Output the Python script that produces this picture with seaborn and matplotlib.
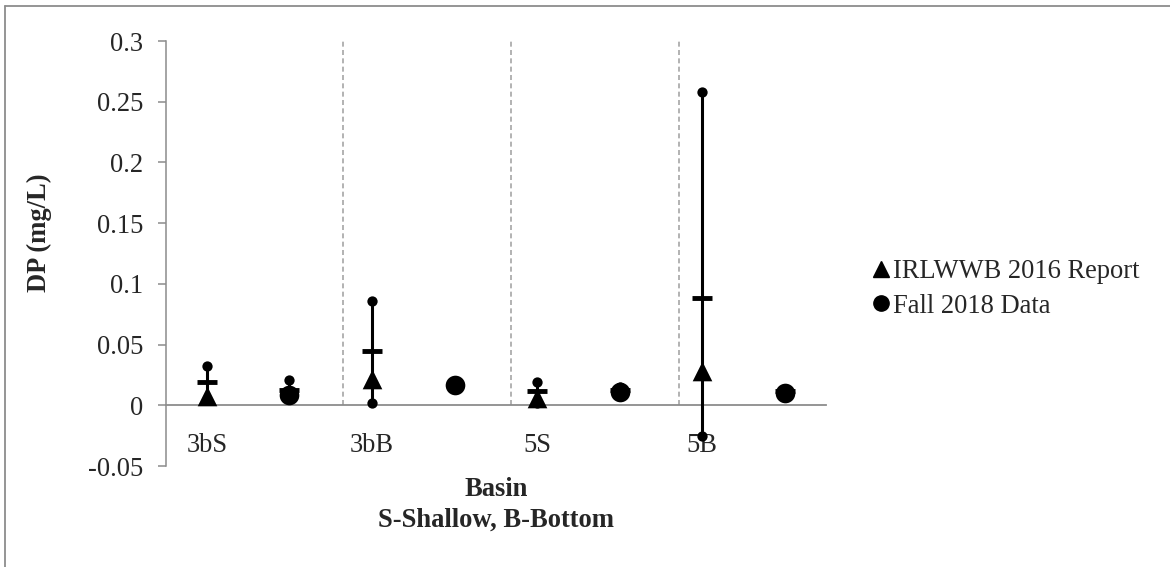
import numpy as np
import pandas as pd
import matplotlib
matplotlib.use("Agg")
import matplotlib.pyplot as plt
from matplotlib.lines import Line2D
import seaborn as sns

# ---- data ----
categories = ["3bS", "3bB", "5S", "5B"]
irl_value = [0.008, 0.022, 0.006, 0.028]      # triangles (IRLWWB 2016 Report)
irl_mean = [0.019, 0.045, 0.012, 0.088]       # dash markers
irl_min = [0.004, 0.002, 0.002, -0.025]
irl_max = [0.032, 0.086, 0.019, 0.258]
fall_value = [0.0085, 0.017, 0.011, 0.010]    # circles (Fall 2018 Data)
fall_mean = [0.0125, np.nan, 0.0125, 0.0115]
fall_min = [0.006, np.nan, 0.008, 0.008]
fall_max = [0.0205, np.nan, 0.015, 0.013]
separators = [1.65, 3.68, 5.72]
yticks = [-0.05, 0, 0.05, 0.1, 0.15, 0.2, 0.25, 0.3]
ytick_labels = ["-0.05", "0", "0.05", "0.1", "0.15", "0.2", "0.25", "0.3"]
legend_labels = ["IRLWWB 2016 Report", "Fall 2018 Data"]

sns.set_style("white")
plt.rcParams['font.family'] = ['Liberation Serif', 'DejaVu Serif']
FS = 19.1
GRAY = "#8c8c8c"

n = len(categories)
irl_x = [2 * i for i in range(n)]
fall_x = [2 * i + 1 for i in range(n)]

df_irl = pd.DataFrame({"x": irl_x, "value": irl_value, "mean": irl_mean,
                       "lo": irl_min, "hi": irl_max})
df_fall = pd.DataFrame({"x": fall_x, "value": fall_value, "mean": fall_mean,
                        "lo": fall_min, "hi": fall_max})

fig = plt.figure(figsize=(11.7, 5.67), dpi=100)
ax = fig.add_axes([0.1415, 0.178, 0.5645, 0.7496])

# separators
ax.vlines(separators, 0, 0.3, colors="#a6a6a6", linestyles=(0, (3, 2)), lw=1.2, zorder=1)

for df in (df_irl, df_fall):
    d = df.dropna(subset=["lo"])
    ax.vlines(d["x"], d["lo"], d["hi"], colors="black", lw=2.2, zorder=3)
    sns.scatterplot(data=pd.concat([d[["x", "lo"]].rename(columns={"lo": "y"}),
                                    d[["x", "hi"]].rename(columns={"hi": "y"})]),
                    x="x", y="y", marker="o", s=55, color="black", linewidth=0,
                    ax=ax, zorder=4, legend=False)
    ax.plot(d["x"], d["mean"], ls="none", marker="_", ms=14, mew=3.5,
            color="black", zorder=4)

sns.scatterplot(data=df_irl, x="x", y="value", marker="^", s=200, color="black",
                linewidth=0, ax=ax, zorder=5, legend=False)
sns.scatterplot(data=df_fall, x="x", y="value", marker="o", s=200, color="black",
                linewidth=0, ax=ax, zorder=5, legend=False)

ax.set_xlim(-0.5, 2 * n - 0.5)
ax.set_ylim(-0.05, 0.3)
ax.set_yticks(yticks, ytick_labels)
ax.set_xticks(irl_x, categories)
ax.set_xlabel("")
ax.set_ylabel("DP (mg/L)", fontsize=FS, fontweight="bold")
ax.yaxis.set_label_coords(-0.172, 0.55)

for s in ("top", "right"):
    ax.spines[s].set_visible(False)
ax.spines["left"].set_color(GRAY)
ax.spines["left"].set_linewidth(1.1)
ax.spines["bottom"].set_position(("data", 0))
ax.spines["bottom"].set_color(GRAY)
ax.spines["bottom"].set_linewidth(1.3)
ax.tick_params(axis="y", direction="out", length=6, width=1.1, color=GRAY,
               labelsize=FS, pad=10, left=True)
ax.tick_params(axis="x", length=0, labelsize=FS, pad=20)
for lbl in ax.get_xticklabels():
    lbl.set_zorder(1)

fig.text(496 / 1170, 1 - 490 / 567, "Basin", ha="center", va="center",
         fontsize=FS, fontweight="bold")
fig.text(496 / 1170, 1 - 520 / 567, "S-Shallow, B-Bottom", ha="center", va="center",
         fontsize=FS, fontweight="bold")

handles = [Line2D([], [], ls="none", marker="^", ms=11, color="black"),
           Line2D([], [], ls="none", marker="o", ms=11, color="black")]
fig.legend(handles, legend_labels, loc="center left",
           bbox_to_anchor=(873 / 1170, 1 - 289 / 567), frameon=False,
           fontsize=FS, handlelength=0.6, handletextpad=0.15, labelspacing=0.35,
           borderpad=0, borderaxespad=0)

# chart area border (left and top visible)
fig.add_artist(Line2D([4.5 / 1170, 4.5 / 1170], [0, 1 - 6 / 567], color=GRAY, lw=1.3,
                      transform=fig.transFigure))
fig.add_artist(Line2D([4.5 / 1170, 1], [1 - 6 / 567, 1 - 6 / 567], color=GRAY, lw=1.3,
                      transform=fig.transFigure))

fig.savefig("out.png", dpi=100)
